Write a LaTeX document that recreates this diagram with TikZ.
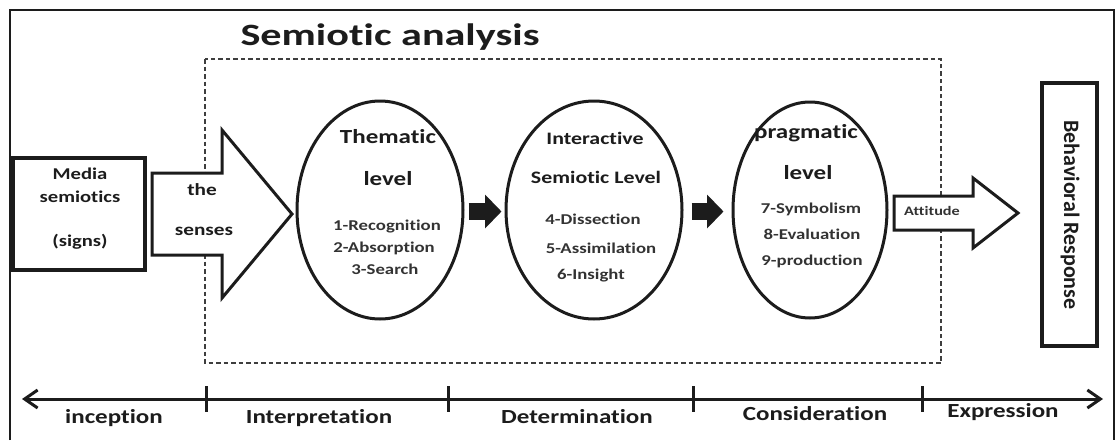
\documentclass[tikz,border=0pt]{standalone}
\usepackage{fontspec}
\setmainfont{Carlito}[Ligatures=NoCommon]
\newfontfamily\bfont[FakeStretch=1.25,Ligatures=NoCommon]{Carlito}
\newfontfamily\tfont[FakeStretch=1.36,Ligatures=NoCommon]{Carlito}
\usetikzlibrary{shapes.geometric,arrows.meta}
\definecolor{ink}{HTML}{1C1C1C}
\begin{document}
\begin{tikzpicture}[x=1pt,y=-1pt,
  frameline/.style={draw=ink, line width=2pt},
  shp/.style={draw=ink, line width=3pt, fill=white, line join=miter},
  dashbox/.style={draw=ink!85, line width=1.1pt, dash pattern=on 4.5pt off 3pt},
  ell/.style={shp, ellipse, inner sep=0pt},
  headtxt/.style={font=\bfont\bfseries\fontsize{20}{20}\selectfont, text=ink, inner sep=0pt, anchor=mid},
  semtxt/.style={font=\bfont\bfseries\fontsize{17.5}{17.5}\selectfont, text=ink, inner sep=0pt, anchor=mid},
  itemtxt/.style={font=\bfont\bfseries\fontsize{15}{15}\selectfont, text=ink!90, inner sep=0pt, anchor=mid},
  boxtxt/.style={font=\bfont\bfseries\fontsize{16.5}{16.5}\selectfont, text=ink, inner sep=0pt, anchor=mid},
  axtxt/.style={font=\bfont\bfseries\fontsize{20}{20}\selectfont, text=ink, inner sep=0pt, anchor=mid},
  blackarrow/.style={draw=ink, line width=17pt, -{Triangle[length=16.5pt,width=33pt]}},
  axisline/.style={draw=ink, line width=3pt, {Straight Barb[length=13pt,width=18pt]}-{Straight Barb[length=13pt,width=18pt]}},
  tickline/.style={draw=ink, line width=3pt}
]
\useasboundingbox (0,0) rectangle (1120,440);
\fill[white] (0,0) rectangle (1120,440);

% outer frame
\draw[frameline] (10,440) -- (10,10) -- (1114,10) -- (1114,440);

% title
\node[font=\tfont\bfseries\fontsize{31}{31}\selectfont, text=ink, inner sep=0pt, anchor=base] (title) at (390,45) {Semiotic analysis};

% dashed region
\draw[dashbox] (205,59) rectangle (941,363);

% media semiotics box
\node[shp, line width=3.5pt, minimum width=132pt, minimum height=112pt, inner sep=0pt] (media) at (79,214) {};
\node[boxtxt] (mediaA) at (80,177) {Media};
\node[boxtxt] (mediaB) at (80,200) {semiotics};
\node[boxtxt] (mediaC) at (80,244) {(signs)};

% the senses arrow
\draw[shp] (152,173) -- (222,173) -- (222,130) -- (292,214) -- (222,298) -- (222,255) -- (152,255) -- cycle;
\node[boxtxt, font=\bfont\bfseries\fontsize{17}{17}\selectfont] (sensA) at (202,193) {the};
\node[boxtxt, font=\bfont\bfseries\fontsize{17}{17}\selectfont] (sensB) at (204,233) {senses};

% ellipses
\node[ell, minimum width=166pt, minimum height=218pt] (them) at (380,210) {};
\node[ell, minimum width=176pt, minimum height=218pt] (inter) at (594,210) {};
\node[ell, minimum width=154pt, minimum height=216pt] (prag) at (810,210) {};

% thematic texts
\node[headtxt] (themA) at (388,141) {Thematic};
\node[headtxt] (themB) at (388,183) {level};
\node[itemtxt] (themC) at (387,228) {1-Recognition};
\node[itemtxt] (themD) at (384,250) {2-Absorption};
\node[itemtxt] (themE) at (385,272) {3-Search};

% interactive texts
\node[semtxt] (interA) at (595,142) {Interactive};
\node[semtxt] (interB) at (596,181) {Semiotic Level};
\node[itemtxt] (interC) at (593,222) {4-Dissection};
\node[itemtxt] (interD) at (601,251) {5-Assimilation};
\node[itemtxt] (interE) at (591,277) {6-Insight};

% pragmatic texts
\node[headtxt] (pragA) at (806,136) {pragmatic};
\node[headtxt] (pragB) at (808,177) {level};
\node[itemtxt] (pragC) at (811,211) {7-Symbolism};
\node[itemtxt] (pragD) at (812,237) {8-Evaluation};
\node[itemtxt] (pragE) at (812,263) {9-production};

% black arrows between ellipses
\draw[blackarrow, shorten <=4pt, shorten >=3pt] (them.east |- 0,211.5) -- (inter.west |- 0,211.5);
\draw[blackarrow, shorten <=8pt, shorten >=8pt] (inter.east |- 0,211.5) -- (prag.west |- 0,211.5);

% attitude arrow
\draw[shp] (894,196) -- (973,196) -- (973,178) -- (1018,213) -- (973,248) -- (973,230) -- (894,230) -- cycle;
\node[itemtxt, font=\bfont\bfseries\fontsize{13}{13}\selectfont] (att) at (932,213) {Attitude};

% behavioral response box
\node[shp, line width=3.5pt, minimum width=55pt, minimum height=263pt, inner sep=0pt] (behav) at (1069.5,214.5) {};
\node[font=\bfseries\fontsize{22}{22}\selectfont, text=ink, inner sep=0pt, rotate=-90] (behavT) at (1070,215) {Behavioral Response};

% timeline axis
\coordinate (axL) at (22,399);
\coordinate (axR) at (1103,399);
\draw[axisline] (axL) -- (axR);
\foreach \tx in {206,448,693,922} {\draw[tickline] (\tx,386) -- (\tx,412);}

\node[axtxt] (ph1) at (114,421) {inception};
\node[axtxt] (ph2) at (319,421) {Interpretation};
\node[axtxt] (ph3) at (577,421) {Determination};
\node[axtxt] (ph4) at (815,418) {Consideration};
\node[axtxt] (ph5) at (1003,415) {Expression};
\end{tikzpicture}
\end{document}
